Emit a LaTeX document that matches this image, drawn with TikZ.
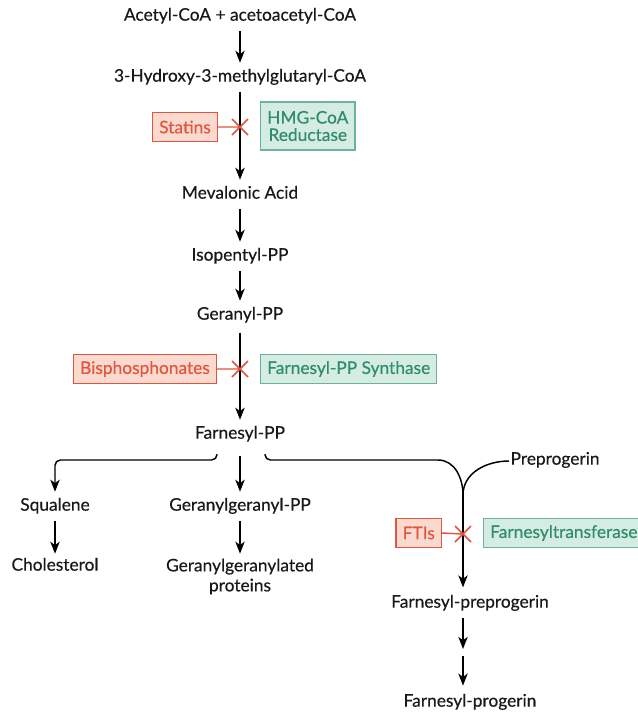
\documentclass[tikz,border=0pt]{standalone}
\usepackage{fontspec}
\setmainfont{Lato}[FakeBold=0.4]
\usepackage{tikz}
\usetikzlibrary{arrows.meta, calc}
\definecolor{inhred}{HTML}{E2553F}
\definecolor{inhfill}{HTML}{FAD9CE}
\definecolor{enzgreen}{HTML}{2F8C6C}
\definecolor{enzfill}{HTML}{D5ECE3}
\definecolor{enzline}{HTML}{6DB39A}
\tikzset{
    arr/.style={line width=1.1pt, -{Stealth[length=9pt, width=7pt, inset=2.5pt]},
        shorten <=3pt, shorten >=4pt}, % pathway arrow
    metab/.style={inner sep=1pt, text height=9pt, text depth=3.5pt,
        font=\fontsize{13}{15}\selectfont, text=black!90},
    inhibitor/.style={draw=inhred, fill=inhfill, text=inhred, line width=0.8pt,
        minimum height=22pt, inner xsep=5pt, font=\fontsize{13}{15}\selectfont},
    enzyme/.style={draw=enzline, fill=enzfill, text=enzgreen, line width=0.8pt,
        minimum height=22pt, inner xsep=5pt, align=center, font=\fontsize{13}{15}\selectfont},
    block/.style={draw=inhred, line width=1.1pt},
    xmark/.style={insert path={++(-8, -8) -- ++(16, 16) ++(-16, 0) -- ++(16, -16)}},
}

\begin{document}
\begin{tikzpicture}[x=0.75pt, y=-0.75pt]
        \useasboundingbox (0, 0) rectangle (638, 715);
        % main pathway
        \node[metab] (acetyl) at (240, 17) {Acetyl-CoA + acetoacetyl-CoA};
        \node[metab] (hmg) at (240, 78) {3-Hydroxy-3-methylglutaryl-CoA};
        \node[metab] (meva) at (240, 195) {Mevalonic Acid};
        \node[metab] (ipp) at (240, 257) {Isopentyl-PP};
        \node[metab] (gpp) at (240, 316) {Geranyl-PP};
        \node[metab] (fpp) at (240, 435) {Farnesyl-PP};
        \draw[arr] (acetyl) -- (hmg);
        \draw[arr] (hmg) -- (meva);
        \draw[arr] (meva) -- (ipp);
        \draw[arr] (ipp) -- (gpp);
        \draw[arr, shorten <=5pt] (gpp) -- (fpp);
        % inhibitors and enzymes
        \node[inhibitor, anchor=east] (statins) at (218, 127) {Statins};
        \node[enzyme, anchor=west, minimum height=36pt] (hmgr) at (260, 126) {HMG-CoA\\[-2pt]Reductase};
        \coordinate (x1) at (240, 127);
        \draw[block] (statins.east) -- (x1) [xmark];
        \node[inhibitor, anchor=east] (bisph) at (217, 369) {Bisphosphonates};
        \node[enzyme, anchor=west] (fpps) at (260, 369) {Farnesyl-PP Synthase};
        \coordinate (x2) at (240, 369);
        \draw[block] (bisph.east) -- (x2) [xmark];
        % branches
        \node[metab] (squa) at (55, 507) {Squalene};
        \node[metab] (chol) at (55, 567) {Cholesterol};
        \node[metab] (ggpp) at (240, 507) {Geranylgeranyl-PP};
        \node[inner sep=1pt, align=center, anchor=north, text=black!90,
            font=\fontsize{13}{15}\selectfont] (ggprot) at (240, 557) {Geranylgeranylated\\proteins};
        \node[metab, anchor=west] (prepro) at (509, 461) {Preprogerin};
        \node[metab] (fpre) at (470, 604) {Farnesyl-preprogerin};
        \node[metab] (fprog) at (470, 703) {Farnesyl-progerin};
        \coordinate (bl) at (217, 454);
        \coordinate (br) at (265, 454);
        \coordinate (bend) at (438, 460);
        \coordinate (merge) at (463, 495);
        \coordinate (mid) at (463, 652);
        \draw[arr, shorten <=0pt, rounded corners=4pt] (bl) -- (bl |- bend) -- (squa |- bend) -- (squa.north);
        \draw[arr, shorten <=8pt] (fpp) -- (ggpp);
        \draw[arr, shorten >=2.5pt] (squa) -- (chol);
        \draw[arr, shorten >=2.5pt] (ggpp) -- (ggprot);
        \draw[line width=1.1pt, rounded corners=4pt] (br) -- (br |- bend) -- (bend);
        \draw[line width=1.1pt] (bend) to[out=0, in=90] (merge);
        \draw[line width=1.1pt] (prepro.west) to[out=180, in=90] (merge);
        \draw[arr, shorten <=0pt, shorten >=5pt] (merge) -- (fpre.north -| merge);
        \node[inhibitor, anchor=east] (ftis) at (442, 533) {FTIs};
        \node[enzyme, anchor=west, minimum width=116pt] (ftase) at (483, 533) {Farnesyltransferase};
        \coordinate (x3) at (463, 534);
        \draw[block] (ftis.east) -- (x3) [xmark];
        \draw[arr, shorten >=2.3pt] (fpre.south -| mid) -- (mid);
        \draw[arr, shorten >=5.6pt] (mid) -- (fprog.north -| mid);
    \end{tikzpicture}
\end{document}
